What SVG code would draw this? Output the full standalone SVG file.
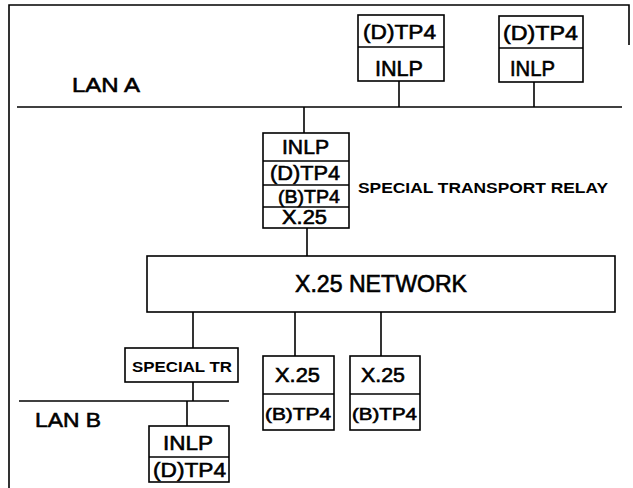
<svg xmlns="http://www.w3.org/2000/svg" width="633" height="488" viewBox="0 0 633 488">
<style>
.bx{fill:#fff;stroke:#000;stroke-width:1.6}
.ln{stroke:#000;stroke-width:1.6;fill:none}
.t{font-family:"Liberation Sans",Arial,sans-serif;fill:#000;stroke:#000;stroke-width:0.6}
.s{font-family:"Liberation Sans",Arial,sans-serif;fill:#000;font-weight:bold;font-size:14px}
</style>
<rect width="633" height="488" fill="#fff"/>
<g id="frame">
<path class="ln" d="M9,488 V5 H629 V45"/>
</g>
<g id="connectors">
<line class="ln" x1="17" y1="107" x2="622" y2="107"/>
<line class="ln" x1="399" y1="81" x2="399" y2="107"/>
<line class="ln" x1="534" y1="82" x2="534" y2="107"/>
<line class="ln" x1="304" y1="107" x2="304" y2="133"/>
<line class="ln" x1="307" y1="228" x2="307" y2="256"/>
<line class="ln" x1="193" y1="312" x2="193" y2="348"/>
<line class="ln" x1="295" y1="312" x2="295" y2="356"/>
<line class="ln" x1="381" y1="312" x2="381" y2="356"/>
<line class="ln" x1="193" y1="382" x2="193" y2="401"/>
<line class="ln" x1="19" y1="401" x2="229" y2="401"/>
<line class="ln" x1="187" y1="401" x2="187" y2="426"/>
</g>
<g id="lanA"><text class="t" x="72" y="92" font-size="21" textLength="68" lengthAdjust="spacingAndGlyphs">LAN A</text></g>
<g id="lanB"><text class="t" x="35" y="427" font-size="21" textLength="66" lengthAdjust="spacingAndGlyphs">LAN B</text></g>
<g id="hostA1">
<rect class="bx" x="358" y="15" width="86" height="66"/>
<line class="ln" x1="358" y1="47" x2="444" y2="47"/>
<text class="t" x="363" y="39" font-size="21" textLength="73" lengthAdjust="spacingAndGlyphs">(D)TP4</text>
<text class="t" x="375" y="76" font-size="22" textLength="48" lengthAdjust="spacingAndGlyphs">INLP</text>
</g>
<g id="hostA2">
<rect class="bx" x="499" y="16" width="84" height="66"/>
<line class="ln" x1="499" y1="48" x2="583" y2="48"/>
<text class="t" x="503" y="40" font-size="21" textLength="75" lengthAdjust="spacingAndGlyphs">(D)TP4</text>
<text class="t" x="510" y="76" font-size="22" textLength="45" lengthAdjust="spacingAndGlyphs">INLP</text>
</g>
<g id="relay">
<rect class="bx" x="263" y="133" width="86" height="95"/>
<line class="ln" x1="263" y1="161" x2="349" y2="161"/>
<line class="ln" x1="263" y1="185" x2="349" y2="185"/>
<line class="ln" x1="263" y1="207" x2="349" y2="207"/>
<text class="t" x="282" y="154" font-size="21" textLength="47" lengthAdjust="spacingAndGlyphs">INLP</text>
<text class="t" x="270" y="180" font-size="21" textLength="70" lengthAdjust="spacingAndGlyphs">(D)TP4</text>
<text class="t" x="278" y="203" font-size="19" textLength="62" lengthAdjust="spacingAndGlyphs">(B)TP4</text>
<text class="t" x="282" y="224" font-size="19.5" textLength="45" lengthAdjust="spacingAndGlyphs">X.25</text>
<text class="s" x="358" y="193" textLength="250" lengthAdjust="spacingAndGlyphs">SPECIAL TRANSPORT RELAY</text>
</g>
<g id="x25net">
<rect class="bx" x="147" y="256" width="468" height="56"/>
<text class="t" x="295" y="292" font-size="23" textLength="172" lengthAdjust="spacingAndGlyphs">X.25 NETWORK</text>
</g>
<g id="specialTR">
<rect class="bx" x="125" y="348" width="113" height="34"/>
<text class="s" x="132" y="372" textLength="100" lengthAdjust="spacingAndGlyphs">SPECIAL TR</text>
</g>
<g id="hostB">
<rect class="bx" x="149" y="426" width="80" height="56"/>
<line class="ln" x1="149" y1="457" x2="229" y2="457"/>
<text class="t" x="163" y="450" font-size="21" textLength="50" lengthAdjust="spacingAndGlyphs">INLP</text>
<text class="t" x="153" y="477" font-size="21" textLength="73" lengthAdjust="spacingAndGlyphs">(D)TP4</text>
</g>
<g id="x25host1">
<rect class="bx" x="263" y="356" width="71" height="74"/>
<line class="ln" x1="263" y1="394" x2="334" y2="394"/>
<text class="t" x="275" y="382" font-size="20" textLength="45" lengthAdjust="spacingAndGlyphs">X.25</text>
<text class="t" x="265" y="420" font-size="17" textLength="66" lengthAdjust="spacingAndGlyphs">(B)TP4</text>
</g>
<g id="x25host2">
<rect class="bx" x="350" y="356" width="70" height="74"/>
<line class="ln" x1="350" y1="394" x2="420" y2="394"/>
<text class="t" x="361" y="382" font-size="20" textLength="44" lengthAdjust="spacingAndGlyphs">X.25</text>
<text class="t" x="352" y="420" font-size="17" textLength="65" lengthAdjust="spacingAndGlyphs">(B)TP4</text>
</g>
</svg>
